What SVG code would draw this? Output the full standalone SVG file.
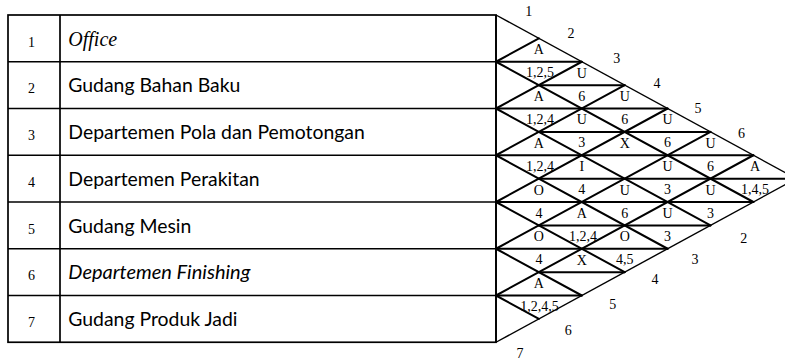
<svg xmlns="http://www.w3.org/2000/svg" width="785" height="360" viewBox="0 0 785 360">
<style>
.bg{fill:#fff}
.tl{stroke:#000;stroke-width:1.7;fill:none}
.gl{stroke:#000;stroke-width:2;fill:none;stroke-linecap:round}
.el{stroke:#000;stroke-width:1.4;fill:none}
.num{font-family:"Liberation Serif",serif;font-size:14px;fill:#000;text-anchor:middle}
.nm{font-family:Lato,"Liberation Sans",sans-serif;font-size:19.4px;fill:#000}
.nmi{font-family:Lato,"Liberation Sans",sans-serif;font-size:20px;font-style:italic;fill:#000}
.nms{font-family:"Liberation Serif",serif;font-size:20px;font-style:italic;fill:#000}
.lb{font-family:"Liberation Serif",serif;font-size:14px;fill:#000;text-anchor:middle}
</style>
<rect class="bg" x="0" y="0" width="785" height="360"/>

<g id="table-lines">
<rect class="tl" x="8" y="15" width="488" height="327.25"/>
<line class="tl" x1="60" y1="15" x2="60" y2="342.25"/>
<line class="tl" x1="8" y1="61.75" x2="496" y2="61.75"/>
<line class="tl" x1="8" y1="108.5" x2="496" y2="108.5"/>
<line class="tl" x1="8" y1="155.25" x2="496" y2="155.25"/>
<line class="tl" x1="8" y1="202" x2="496" y2="202"/>
<line class="tl" x1="8" y1="248.75" x2="496" y2="248.75"/>
<line class="tl" x1="8" y1="295.5" x2="496" y2="295.5"/>
</g>

<g id="dept-1"><text class="num" x="31.5" y="46.7">1</text><text class="nms" x="68.3" y="45.7">Office</text></g>
<g id="dept-2"><text class="num" x="31.5" y="93.4">2</text><text class="nm" x="68.3" y="92.4">Gudang Bahan Baku</text></g>
<g id="dept-3"><text class="num" x="31.5" y="140.2">3</text><text class="nm" x="68.3" y="139.2">Departemen Pola dan Pemotongan</text></g>
<g id="dept-4"><text class="num" x="31.5" y="186.9">4</text><text class="nm" x="68.3" y="185.9">Departemen Perakitan</text></g>
<g id="dept-5"><text class="num" x="31.5" y="233.7">5</text><text class="nm" x="68.3" y="232.6">Gudang Mesin</text></g>
<g id="dept-6"><text class="num" x="31.5" y="280.4">6</text><text class="nmi" x="68.3" y="279.4">Departemen Finishing</text></g>
<g id="dept-7"><text class="num" x="31.5" y="327.2">7</text><text class="nm" x="68.3" y="326.1">Gudang Produk Jadi</text></g>

<g id="connectors">
<!-- outer edges of the chart -->
<line class="el" x1="496" y1="15" x2="796.3" y2="178.625"/>
<line class="el" x1="496" y1="342.25" x2="796.3" y2="178.625"/>
<!-- down-right diagonals -->
<line class="gl" x1="496" y1="61.75" x2="753.4" y2="202"/>
<line class="gl" x1="496" y1="108.5" x2="710.5" y2="225.375"/>
<line class="gl" x1="496" y1="155.25" x2="667.6" y2="248.75"/>
<line class="gl" x1="496" y1="202" x2="624.7" y2="272.125"/>
<line class="gl" x1="496" y1="248.75" x2="581.8" y2="295.5"/>
<line class="gl" x1="496" y1="295.5" x2="538.9" y2="318.875"/>
<!-- up-right diagonals -->
<line class="gl" x1="496" y1="61.75" x2="538.9" y2="38.375"/>
<line class="gl" x1="496" y1="108.5" x2="581.8" y2="61.75"/>
<line class="gl" x1="496" y1="155.25" x2="624.7" y2="85.125"/>
<line class="gl" x1="496" y1="202" x2="667.6" y2="108.5"/>
<line class="gl" x1="496" y1="248.75" x2="710.5" y2="131.875"/>
<line class="gl" x1="496" y1="295.5" x2="753.4" y2="155.25"/>
<!-- horizontal splitters -->
<line class="gl" x1="496" y1="61.75" x2="581.8" y2="61.75"/>
<line class="gl" x1="538.9" y1="85.125" x2="624.7" y2="85.125"/>
<line class="gl" x1="496" y1="108.5" x2="667.6" y2="108.5"/>
<line class="gl" x1="538.9" y1="131.875" x2="710.5" y2="131.875"/>
<line class="gl" x1="496" y1="155.25" x2="753.4" y2="155.25"/>
<line class="gl" x1="538.9" y1="178.625" x2="796.3" y2="178.625"/>
<line class="gl" x1="496" y1="202" x2="753.4" y2="202"/>
<line class="gl" x1="538.9" y1="225.375" x2="710.5" y2="225.375"/>
<line class="gl" x1="496" y1="248.75" x2="667.6" y2="248.75"/>
<line class="gl" x1="538.9" y1="272.125" x2="624.7" y2="272.125"/>
<line class="gl" x1="496" y1="295.5" x2="581.8" y2="295.5"/>
<line class="tl" x1="496" y1="15" x2="496" y2="342.25"/>
</g>

<g id="rel-1-2"><text class="lb" x="538.9" y="54.3">A</text><text class="lb" x="540" y="77.3">1,2,5</text></g>
<g id="rel-1-3"><text class="lb" x="581.8" y="77.6">U</text><text class="lb" x="581.8" y="100.6">6</text></g>
<g id="rel-1-4"><text class="lb" x="624.7" y="101">U</text><text class="lb" x="624.7" y="124">6</text></g>
<g id="rel-1-5"><text class="lb" x="667.6" y="124.4">U</text><text class="lb" x="667.6" y="147.4">6</text></g>
<g id="rel-1-6"><text class="lb" x="710.5" y="147.8">U</text><text class="lb" x="710.5" y="170.8">6</text></g>
<g id="rel-1-7"><text class="lb" x="755" y="171.1">A</text><text class="lb" x="755" y="194.1">1,4,5</text></g>
<g id="rel-2-3"><text class="lb" x="538.9" y="101">A</text><text class="lb" x="540" y="124">1,2,4</text></g>
<g id="rel-2-4"><text class="lb" x="581.8" y="124.4">U</text><text class="lb" x="581.8" y="147.4">3</text></g>
<g id="rel-2-5"><text class="lb" x="624.7" y="147.8">X</text></g>
<g id="rel-2-6"><text class="lb" x="667.6" y="171.1">U</text><text class="lb" x="667.6" y="194.1">3</text></g>
<g id="rel-2-7"><text class="lb" x="710.5" y="194.5">U</text><text class="lb" x="710.5" y="217.5">3</text></g>
<g id="rel-3-4"><text class="lb" x="538.9" y="147.8">A</text><text class="lb" x="540" y="170.8">1,2,4</text></g>
<g id="rel-3-5"><text class="lb" x="581.8" y="171.1">I</text><text class="lb" x="581.8" y="194.1">4</text></g>
<g id="rel-3-6"><text class="lb" x="624.7" y="194.5">U</text><text class="lb" x="624.7" y="217.5">6</text></g>
<g id="rel-3-7"><text class="lb" x="667.6" y="217.9">U</text><text class="lb" x="667.6" y="240.9">3</text></g>
<g id="rel-4-5"><text class="lb" x="538.9" y="194.5">O</text><text class="lb" x="538.9" y="217.5">4</text></g>
<g id="rel-4-6"><text class="lb" x="581.8" y="217.9">A</text><text class="lb" x="583" y="240.9">1,2,4</text></g>
<g id="rel-4-7"><text class="lb" x="624.7" y="241.3">O</text><text class="lb" x="624.7" y="264.3">4,5</text></g>
<g id="rel-5-6"><text class="lb" x="538.9" y="241.3">O</text><text class="lb" x="538.9" y="264.3">4</text></g>
<g id="rel-5-7"><text class="lb" x="581.8" y="264.6">X</text></g>
<g id="rel-6-7"><text class="lb" x="538.9" y="288">A</text><text class="lb" x="539.5" y="311">1,2,4,5</text></g>

<g id="top-labels">
<text class="lb" x="528.7" y="16">1</text>
<text class="lb" x="571" y="38.3">2</text>
<text class="lb" x="616.7" y="62.7">3</text>
<text class="lb" x="657" y="88">4</text>
<text class="lb" x="698" y="113">5</text>
<text class="lb" x="741.5" y="138">6</text>
</g>
<g id="bottom-labels">
<text class="lb" x="743.7" y="243.3">2</text>
<text class="lb" x="695" y="264.3">3</text>
<text class="lb" x="655" y="283.5">4</text>
<text class="lb" x="612.7" y="309.3">5</text>
<text class="lb" x="568.3" y="335">6</text>
<text class="lb" x="520" y="358">7</text>
</g>
</svg>
